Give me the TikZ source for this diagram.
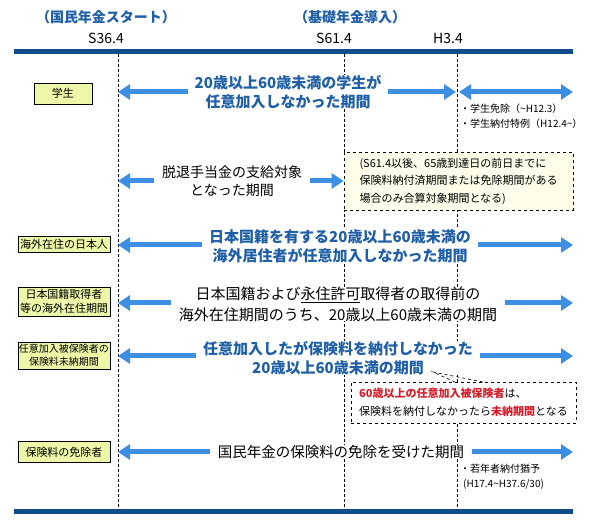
\documentclass[tikz,border=0pt]{standalone}
\usepackage{fontspec}
\setmainfont{Noto Sans CJK JP}
\usetikzlibrary{arrows.meta,positioning}
\definecolor{navy}{HTML}{0E4C8A}
\definecolor{arrowblue}{HTML}{3D8FE3}
\definecolor{textblue}{HTML}{1F5FA6}
\definecolor{boxgreen}{HTML}{EEF6A8}
\definecolor{notecream}{HTML}{FDFDE9}
\definecolor{notered}{HTML}{D41E2A}

\begin{document}
\begin{tikzpicture}[%
    x=1pt, y=-1pt,
    bar/.style={navy, line width=5pt},
    period/.style={arrowblue, line width=5pt, -{Triangle[width=15pt,length=12pt]}},
    twoway/.style={arrowblue, line width=5pt, {Triangle[width=15pt,length=12pt]}-{Triangle[width=15pt,length=12pt]}},
    vline/.style={densely dashed, line width=0.6pt},
    cat/.style={draw, line width=0.8pt, fill=boxgreen, align=center, minimum width=92pt,
      inner sep=1pt, font=\fontsize{11}{14}\selectfont},
    bluelab/.style={fill=white, align=center, text=textblue, inner xsep=7pt, inner ysep=0pt,
      font=\bfseries\fontsize{15}{19}\selectfont},
    blacklab/.style={fill=white, align=center, inner xsep=8pt, inner ysep=0pt,
      font=\fontsize{15}{21}\selectfont},
    toplab/.style={text=textblue, font=\bfseries\fontsize{14}{16}\selectfont},
    year/.style={font=\fontsize{14}{16}\selectfont},
    memo/.style={anchor=north west, align=left, inner sep=0pt, font=\fontsize{10}{14.5}\selectfont},
    notebox/.style={draw, dashed, line width=0.7pt, fill=notecream, align=left, inner sep=0pt,
      font=\fontsize{11}{17.5}\selectfont},
  ]
    \useasboundingbox (0,0) rectangle (590,529);

    \node[toplab] (kokumin) at (106,17) {（国民年金スタート）};
    \node[toplab] (kiso)    at (350,17) {（基礎年金導入）};
    \node[year] (s36) at (106,38) {S36.4};
    \node[year] (s61) at (334,38) {S61.4};
    \node[year] (h3)  at (448,38) {H3.4};

    \draw[bar] (14,51.5) -- (573,51.5);
    \draw[bar] (14,511.5) -- (573,511.5);
    \foreach \x in {118,344,457}
      \draw[vline] (\x,54) -- (\x,509);

    \coordinate (r1l) at (118,92);
    \coordinate (r1r) at (456,92);
    \coordinate (r1a) at (459,92);
    \coordinate (r1b) at (573,92);
    \coordinate (r2l) at (118,181);
    \coordinate (r3l) at (118,245);
    \coordinate (r3r) at (573,245);
    \coordinate (r4l) at (118,303);
    \coordinate (r4r) at (573,303);
    \coordinate (r5l) at (118,356);
    \coordinate (r5r) at (573,356);
    \coordinate (r6l) at (118,452);
    \coordinate (r6r) at (573,452);

    \node[cat, minimum width=58pt, minimum height=21pt] (gakusei) at (63,93.5) {学生};
    \node[bluelab] (t1) at (288,92) {20歳以上60歳未満の学生が\\任意加入しなかった期間};
    \node[memo] (menjo) at (460,104) {・学生免除（\textasciitilde H12.3）\\・学生納付特例（H12.4\textasciitilde）};

    \node[blacklab, font=\fontsize{14}{18}\selectfont] (t2) at (232,181) {脱退手当金の支給対象\\となった期間};
    \node[notebox, minimum width=229pt, minimum height=58pt] (gassan) at (458.5,181)
      {(S61.4以後、65歳到達日の前日までに\\保険料納付済期間または免除期間がある\\場合のみ合算対象期間となる)};

    \node[cat, minimum height=16pt] (kaigai) at (64,244) {海外在住の日本人};
    \node[bluelab] (t3) at (340,246) {日本国籍を有する20歳以上60歳未満の\\海外居住者が任意加入しなかった期間};

    \node[cat, minimum height=29pt] (shutoku) at (64,301.5) {日本国籍取得者\\等の海外在住期間};
    \node[blacklab] (t4) at (338,304) {日本国籍および\underline{永住許可}取得者の取得前の\\海外在住期間のうち、20歳以上60歳未満の期間};

    \node[cat, minimum height=27pt, font=\fontsize{10}{13}\selectfont] (mino) at (64,355.5) {任意加入被保険者の\\保険料未納期間};
    \node[bluelab] (t5) at (338,358) {任意加入したが保険料を納付しなかった\\20歳以上60歳未満の期間};
    \node[notebox, fill=white, minimum width=225pt, minimum height=41pt] (koureisha) at (463.5,402.5)
      {\textcolor{notered}{\bfseries 60歳以上の任意加入被保険者}は、\\保険料を納付しなかったら\textcolor{notered}{\bfseries 未納期間}となる};
    \coordinate (tip) at (433,372);
    \coordinate (pb1) at (455,382);
    \coordinate (pb2) at (483,382);
    \draw[dashed, line width=0.6pt] (pb1) -- (tip) -- (pb2);

    \node[cat, minimum height=21pt] (menjosha) at (64,452) {保険料の免除者};
    \node[blacklab, font=\fontsize{14.5}{18}\selectfont] (t6) at (341,452) {国民年金の保険料の免除を受けた期間};
    \node[memo] (jakunen) at (460,464) {・若年者納付猶予\\\hspace*{3pt}(H17.4\textasciitilde H37.6/30)};

    \draw[period] (t1) -- (r1l);
    \draw[period] (t1) -- (r1r);
    \draw[twoway] (r1a) -- (r1b);
    \draw[period] (t2) -- (r2l);
    \draw[period] (t2) -- (gassan);
    \draw[period] (t3.west |- r3l) -- (r3l);
    \draw[period] (t3.east |- r3r) -- (r3r);
    \draw[period] (t4.west |- r4l) -- (r4l);
    \draw[period] (t4.east |- r4r) -- (r4r);
    \draw[period] (t5.west |- r5l) -- (r5l);
    \draw[period] (t5.east |- r5r) -- (r5r);
    \draw[period] (t6) -- (r6l);
    \draw[period] (t6) -- (r6r);
  \end{tikzpicture}
\end{document}
